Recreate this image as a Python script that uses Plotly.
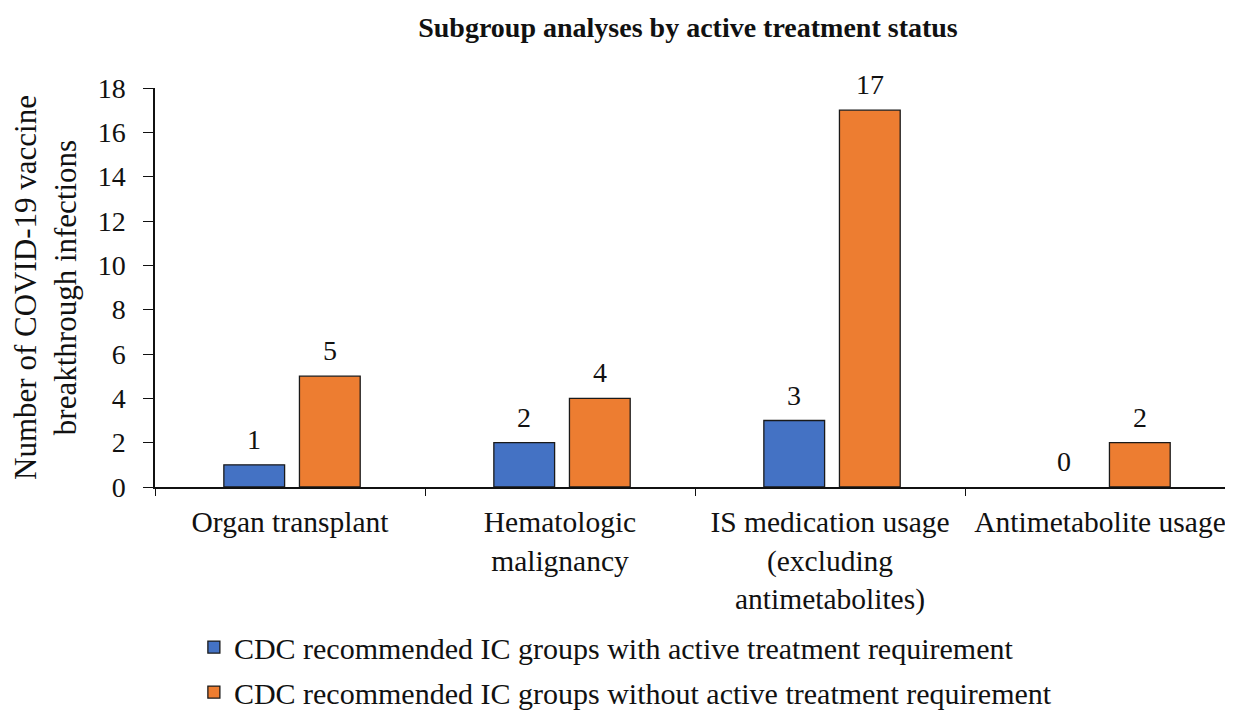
import plotly.graph_objects as go

# categories and counts
categories = [
    "Organ transplant",
    "Hematologic<br>malignancy",
    "IS medication usage<br>(excluding<br>antimetabolites)",
    "Antimetabolite usage",
]
with_active = [1, 2, 3, 0]
without_active = [5, 4, 17, 2]
series_names = [
    "CDC recommended IC groups with active treatment requirement",
    "CDC recommended IC groups without active treatment requirement",
]
colors = ["#4472C4", "#ED7D31"]

font_family = "Liberation Serif"
bar_width = 0.225
offsets = [-0.245, 0.035]

fig = go.Figure()
for i, (vals, name) in enumerate(zip([with_active, without_active], series_names)):
    fig.add_trace(go.Bar(
        x=categories, y=vals, name=name,
        width=bar_width, offset=offsets[i],
        marker=dict(
            color=colors[i],
            # no outline for empty bars
            line=dict(color="#1a1a1a", width=[1.3 if v > 0 else 0 for v in vals]),
        ),
        legendgroup="g{}".format(i),
    ))
    # value labels above bars
    for k, v in enumerate(vals):
        fig.add_annotation(
            x=k + offsets[i] + bar_width / 2, y=v, text=str(v),
            showarrow=False, yanchor="bottom", yshift=8,
            font=dict(family=font_family, size=28, color="#111"),
        )

# page body adds an 8px offset; the figure runs a little past the window edges
fig.update_layout(
    width=1230, height=720,
    margin=dict(l=147, r=3, t=80, b=241),
    paper_bgcolor="white", plot_bgcolor="white",
    barmode="overlay",
    font=dict(family=font_family, size=28, color="#111"),
    title=dict(
        text="<b>Subgroup analyses by active treatment status</b>",
        xref="container", x=680 / 1230, xanchor="center",
        yref="container", y=1 - 19 / 720, yanchor="middle",
        font=dict(family=font_family, size=28, color="#111"),
    ),
    legend=dict(
        x=0.036, xanchor="left", y=-0.336, yanchor="top",
        tracegroupgap=3, font=dict(family=font_family, size=30, color="#111"),
        bgcolor="rgba(0,0,0,0)",
    ),
    showlegend=True,
)

fig.update_xaxes(
    type="category", range=[-0.5, 3.5],
    showline=True, linecolor="#111", linewidth=1.5,
    ticks="outside", tickson="boundaries", ticklen=7, tickcolor="#111",
    ticklabelstandoff=8,
    tickfont=dict(family=font_family, size=29.5, color="#111"),
    showgrid=False, zeroline=False, tickangle=0,
)
fig.update_yaxes(
    range=[0, 18], dtick=2,
    showline=True, linecolor="#111", linewidth=1.5,
    ticks="outside", ticklen=10, tickcolor="#111",
    ticklabelstandoff=12,
    tickfont=dict(family=font_family, size=28, color="#111"),
    showgrid=False, zeroline=False,
    title=dict(
        text="Number of COVID-19 vaccine<br>breakthrough infections", standoff=22,
        font=dict(family=font_family, size=31, color="#111"),
    ),
)

fig.write_html("out.html")
